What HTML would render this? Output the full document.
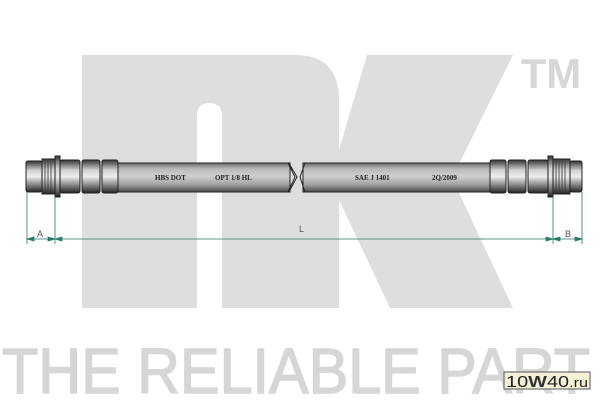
<!DOCTYPE html>
<html><head><meta charset="utf-8"><style>
html,body{margin:0;padding:0;background:#fff;width:600px;height:400px;overflow:hidden}
svg{display:block}
</style></head><body>
<svg width="600" height="400" viewBox="0 0 600 400" xmlns="http://www.w3.org/2000/svg">
<defs>
<linearGradient id="tube" x1="0" y1="0" x2="0" y2="1">
<stop offset="0" stop-color="#6a6a6a"/><stop offset="0.2" stop-color="#b8b8b8"/><stop offset="0.45" stop-color="#d0d0d0"/><stop offset="0.75" stop-color="#a0a0a0"/><stop offset="1" stop-color="#4a4a4a"/>
</linearGradient>
<linearGradient id="fit" x1="0" y1="0" x2="0" y2="1">
<stop offset="0" stop-color="#333"/><stop offset="0.3" stop-color="#cfcfcf"/><stop offset="0.5" stop-color="#eee"/><stop offset="0.8" stop-color="#777"/><stop offset="1" stop-color="#222"/>
</linearGradient>
</defs>
<g fill="#dedede">
<path d="M82,55 H295 Q339,55 339,100 V308 H222 V116 Q222,103 209,103 Q197,103 197,116 V308 H82 Z"/>
<polygon points="367,55 513,55 452,178 513,308 390,308 339,200 339,150"/>
</g>
<text x="521" y="88" font-family="Liberation Sans, sans-serif" font-weight="bold" font-size="42" fill="#d6d6d6" textLength="60" lengthAdjust="spacingAndGlyphs">TM</text>
<text x="2" y="393" font-family="Liberation Sans, sans-serif" font-size="64" fill="#d6d6d6" stroke="#d6d6d6" stroke-width="1.5" textLength="588" lengthAdjust="spacingAndGlyphs">THE RELIABLE PART</text>

<rect x="116" y="163" width="174" height="29" fill="url(#tube)" stroke="#222" stroke-width="1"/>
<rect x="303" y="163" width="187" height="29" fill="url(#tube)" stroke="#222" stroke-width="1"/>
<path d="M288,163 L295,177 L288,192 M290,165 L297,177 L290,190 M305,163 L300,177 L305,192" stroke="#222" fill="none" stroke-width="1"/>
<g font-family="Liberation Serif, serif" font-weight="bold" font-size="7" fill="#222">
<text x="155" y="180">HBS DOT</text><text x="215" y="180">OPT 1/8 HL</text>
<text x="355" y="180">SAE J 1401</text><text x="432" y="180">2Q/2009</text>
</g>
<g stroke="#222" stroke-width="1" fill="url(#fit)">
<rect x="26" y="161" width="16" height="31" rx="2"/>
<rect x="42" y="159" width="13" height="35"/>
<rect x="55" y="156" width="5" height="41"/>
<rect x="60" y="160" width="20" height="33" rx="2"/>
<rect x="82" y="160" width="18" height="33" rx="2"/>
<rect x="102" y="160" width="16" height="33" rx="2"/>
<rect x="490" y="160" width="16" height="33" rx="2"/>
<rect x="508" y="160" width="18" height="33" rx="2"/>
<rect x="528" y="160" width="20" height="33" rx="2"/>
<rect x="548" y="156" width="5" height="41"/>
<rect x="553" y="159" width="17" height="35"/>
<rect x="570" y="161" width="12" height="31" rx="2"/>
</g>
<g stroke="#333" stroke-width="0.8">
<path d="M45,161V192M48,161V192M51,161V192M556,161V192M559,161V192M562,161V192M565,161V192"/>
</g>
<g stroke="#2a7a6a" stroke-width="0.8" fill="#2a7a6a">
<path d="M27,192V244M55,197V244M553,197V244M582,192V244M27,239H582" fill="none"/>
<polygon points="27,239 34,237 34,241"/><polygon points="55,239 48,237 48,241"/>
<polygon points="55,239 62,237 62,241"/><polygon points="553,239 546,237 546,241"/>
<polygon points="553,239 560,237 560,241"/><polygon points="582,239 575,237 575,241"/>
</g>
<g font-family="Liberation Sans, sans-serif" font-size="9" fill="#555">
<text x="37" y="237">A</text><text x="299" y="232">L</text><text x="565" y="237">B</text>
</g>
<rect x="504" y="372" width="86" height="17" fill="#f3f1d6" stroke="#555" stroke-width="1"/>
<text x="506" y="387" font-family="Liberation Sans, sans-serif" font-size="16" fill="#222" textLength="82" lengthAdjust="spacingAndGlyphs">10<tspan font-weight="bold" fill="#333">W</tspan>40<tspan font-size="13">.ru</tspan></text>
</svg>
</body></html>
